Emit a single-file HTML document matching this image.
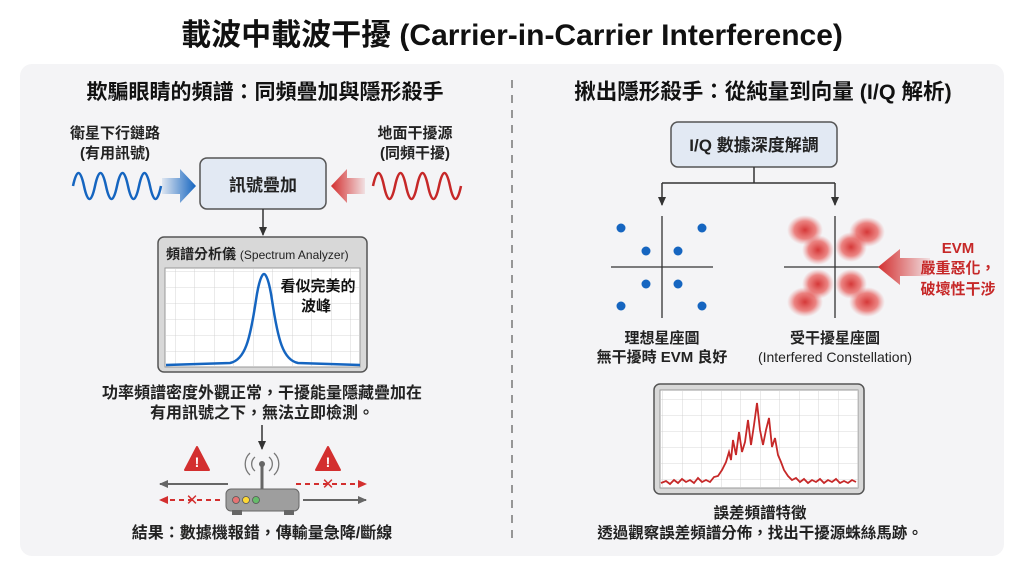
<!DOCTYPE html>
<html><head><meta charset="utf-8"><style>
body{margin:0;background:#fff;}
svg{display:block;font-family:"Liberation Sans","Noto Sans CJK TC",sans-serif;}
</style></head><body>
<svg width="1024" height="572" viewBox="0 0 1024 572" xmlns="http://www.w3.org/2000/svg">
<defs>
<linearGradient id="bg1" x1="0" x2="1"><stop offset="0" stop-color="#1565c0" stop-opacity="0.1"/><stop offset="1" stop-color="#1565c0"/></linearGradient>
<linearGradient id="rg1" x1="1" x2="0"><stop offset="0" stop-color="#d32f2f" stop-opacity="0.1"/><stop offset="1" stop-color="#d32f2f"/></linearGradient>
<radialGradient id="cl"><stop offset="0" stop-color="#d32f2f" stop-opacity="0.95"/><stop offset="0.6" stop-color="#e53935" stop-opacity="0.6"/><stop offset="1" stop-color="#e57373" stop-opacity="0"/></radialGradient>
<pattern id="grid" width="19.5" height="16" patternUnits="userSpaceOnUse"><path d="M19.5 0V16M0 16H19.5" stroke="#ccc" stroke-width="0.8" fill="none"/></pattern>
<marker id="ah" markerUnits="userSpaceOnUse" markerWidth="10" markerHeight="10" refX="8" refY="5" orient="auto"><path d="M0,1L9,5L0,9z" fill="#333"/></marker>
<marker id="ag" markerUnits="userSpaceOnUse" markerWidth="10" markerHeight="10" refX="8" refY="5" orient="auto"><path d="M0,1L9,5L0,9z" fill="#666"/></marker>
<marker id="ar" markerUnits="userSpaceOnUse" markerWidth="10" markerHeight="10" refX="8" refY="5" orient="auto"><path d="M0,1L9,5L0,9z" fill="#d32f2f"/></marker>
</defs>
<rect x="20" y="64" width="984" height="492" rx="12" fill="#f4f4f6"/>
<text x="512" y="45" text-anchor="middle" font-size="30" font-weight="bold" fill="#111">載波中載波干擾 (Carrier-in-Carrier Interference)</text>
<line x1="512" y1="80" x2="512" y2="545" stroke="#777" stroke-width="1.5" stroke-dasharray="8,7"/>
<text x="265" y="99" text-anchor="middle" font-size="21" font-weight="bold" fill="#111">欺騙眼睛的頻譜：同頻疊加與隱形殺手</text>
<text x="763" y="99" text-anchor="middle" font-size="21.5" font-weight="bold" fill="#111">揪出隱形殺手：從純量到向量 (I/Q 解析)</text>

<text x="115" y="138" text-anchor="middle" font-size="15" font-weight="bold" fill="#222">衛星下行鏈路</text>
<text x="115" y="158" text-anchor="middle" font-size="15" font-weight="bold" fill="#222">(有用訊號)</text>
<text x="415" y="138" text-anchor="middle" font-size="15" font-weight="bold" fill="#222">地面干擾源</text>
<text x="415" y="158" text-anchor="middle" font-size="15" font-weight="bold" fill="#222">(同頻干擾)</text>
<path d="M73 186 q5.5 -26 11 0 t11 0 t11 0 t11 0 t11 0 t11 0 t11 0 t11 0" fill="none" stroke="#1565c0" stroke-width="2.5"/>
<path d="M162 178h18v-9l16 17-16 17v-9h-18z" fill="url(#bg1)"/>
<path d="M365 178h-18v-9l-16 17 16 17v-9h18z" fill="url(#rg1)"/>
<path d="M373 186 q5.5 -26 11 0 t11 0 t11 0 t11 0 t11 0 t11 0 t11 0 t11 0" fill="none" stroke="#c62828" stroke-width="2.5"/>
<rect x="200" y="158" width="126" height="51" rx="7" fill="#e2e9f3" stroke="#555" stroke-width="1.5"/>
<text x="263" y="191" text-anchor="middle" font-size="17" font-weight="bold" fill="#222">訊號疊加</text>
<line x1="263" y1="209" x2="263" y2="235" stroke="#333" stroke-width="1.5" marker-end="url(#ah)"/>
<rect x="158" y="237" width="209" height="135" rx="6" fill="#d8d8d8" stroke="#555" stroke-width="1.5"/>
<text x="166" y="259" font-size="14" font-weight="bold" fill="#222">頻譜分析儀 <tspan font-size="12" font-weight="normal">(Spectrum Analyzer)</tspan></text>
<rect x="165" y="268" width="195" height="99" fill="#fff" stroke="#999"/>
<rect x="165" y="268" width="195" height="99" fill="url(#grid)"/>
<path d="M166 365 L230 363 C245 360 250 340 256 300 C259 280 262 274 264 274 C266 274 269 280 272 300 C278 340 283 360 298 363 L360 365" fill="none" stroke="#1565c0" stroke-width="2.5"/>
<text x="318" y="291" text-anchor="middle" font-size="15" font-weight="bold" fill="#111">看似完美的</text>
<text x="316" y="311" text-anchor="middle" font-size="15" font-weight="bold" fill="#111">波峰</text>
<text x="262" y="398" text-anchor="middle" font-size="16" font-weight="bold" fill="#222">功率頻譜密度外觀正常，干擾能量隱藏疊加在</text>
<text x="262" y="418" text-anchor="middle" font-size="16" font-weight="bold" fill="#222">有用訊號之下，無法立即檢測。</text>
<line x1="262" y1="425" x2="262" y2="449" stroke="#333" stroke-width="1.5" marker-end="url(#ah)"/>
<path d="M197 447 L209 470 L185 470 Z" fill="#d32f2f" stroke="#d32f2f" stroke-width="2" stroke-linejoin="round"/>
<text x="197" y="467" text-anchor="middle" font-size="14" font-weight="bold" fill="#fff">!</text>
<path d="M328 447 L340 470 L316 470 Z" fill="#d32f2f" stroke="#d32f2f" stroke-width="2" stroke-linejoin="round"/>
<text x="328" y="467" text-anchor="middle" font-size="14" font-weight="bold" fill="#fff">!</text>
<line x1="262" y1="465" x2="262" y2="491" stroke="#666" stroke-width="3"/>
<circle cx="262" cy="464" r="3" fill="#666"/>
<path d="M255 457a9 9 0 0 0 0 14M269 457a9 9 0 0 1 0 14M250 453a15 15 0 0 0 0 22M274 453a15 15 0 0 1 0 22" fill="none" stroke="#777" stroke-width="1.3"/>
<rect x="226" y="489" width="73" height="22" rx="5" fill="#9e9e9e" stroke="#666"/>
<rect x="232" y="510" width="10" height="5" fill="#666"/><rect x="284" y="510" width="10" height="5" fill="#666"/>
<circle cx="236" cy="500" r="3.5" fill="#e57373" stroke="#555" stroke-width="0.8"/>
<circle cx="246" cy="500" r="3.5" fill="#fdd835" stroke="#555" stroke-width="0.8"/>
<circle cx="256" cy="500" r="3.5" fill="#66bb6a" stroke="#555" stroke-width="0.8"/>
<line x1="228" y1="484" x2="160" y2="484" stroke="#666" stroke-width="2" marker-end="url(#ag)"/>
<line x1="220" y1="500" x2="160" y2="500" stroke="#d32f2f" stroke-width="2" stroke-dasharray="5,4" marker-end="url(#ar)"/>
<text x="192" y="505" text-anchor="middle" font-size="15" fill="#d32f2f">✕</text>
<line x1="296" y1="484" x2="366" y2="484" stroke="#d32f2f" stroke-width="2" stroke-dasharray="5,4" marker-end="url(#ar)"/>
<text x="328" y="489" text-anchor="middle" font-size="15" fill="#d32f2f">✕</text>
<line x1="303" y1="500" x2="366" y2="500" stroke="#666" stroke-width="2" marker-end="url(#ag)"/>
<text x="262" y="538" text-anchor="middle" font-size="16" font-weight="bold" fill="#222">結果：數據機報錯，傳輸量急降/斷線</text>

<rect x="671" y="122" width="166" height="45" rx="7" fill="#e2e9f3" stroke="#555" stroke-width="1.5"/>
<text x="754" y="151" text-anchor="middle" font-size="17" font-weight="bold" fill="#222">I/Q 數據深度解調</text>
<path d="M754 167V183M662 183H835" stroke="#333" stroke-width="1.5" fill="none"/>
<line x1="662" y1="183" x2="662" y2="205" stroke="#333" stroke-width="1.5" marker-end="url(#ah)"/>
<line x1="835" y1="183" x2="835" y2="205" stroke="#333" stroke-width="1.5" marker-end="url(#ah)"/>
<path d="M611 267H713M662 216V318" stroke="#333" stroke-width="1.3"/>
<g fill="#1565c0">
<circle cx="621" cy="228" r="4.5"/><circle cx="702" cy="228" r="4.5"/><circle cx="646" cy="251" r="4.5"/><circle cx="678" cy="251" r="4.5"/>
<circle cx="646" cy="284" r="4.5"/><circle cx="678" cy="284" r="4.5"/><circle cx="621" cy="306" r="4.5"/><circle cx="702" cy="306" r="4.5"/>
</g>
<path d="M784 267H880M835 216V318" stroke="#333" stroke-width="1.3"/>
<g fill="url(#cl)">
<ellipse cx="805" cy="230" rx="18" ry="15"/><ellipse cx="818" cy="250" rx="16" ry="15"/><ellipse cx="851" cy="247" rx="16" ry="15"/><ellipse cx="867" cy="232" rx="18" ry="15"/>
<ellipse cx="818" cy="284" rx="16" ry="15"/><ellipse cx="805" cy="302" rx="18" ry="15"/><ellipse cx="851" cy="284" rx="16" ry="15"/><ellipse cx="867" cy="302" rx="18" ry="15"/>
</g>
<path d="M930 258h-30v-9l-22 18 22 18v-9h30z" fill="url(#rg1)"/>
<text x="958" y="253" text-anchor="middle" font-size="15" font-weight="bold" fill="#c62828">EVM</text>
<text x="958" y="273" text-anchor="middle" font-size="15" font-weight="bold" fill="#c62828">嚴重惡化，</text>
<text x="958" y="294" text-anchor="middle" font-size="15" font-weight="bold" fill="#c62828">破壞性干涉</text>
<text x="662" y="343" text-anchor="middle" font-size="15" font-weight="bold" fill="#222">理想星座圖</text>
<text x="662" y="362" text-anchor="middle" font-size="15" font-weight="bold" fill="#222">無干擾時 EVM 良好</text>
<text x="835" y="343" text-anchor="middle" font-size="15" font-weight="bold" fill="#222">受干擾星座圖</text>
<text x="835" y="362" text-anchor="middle" font-size="14" fill="#222">(Interfered Constellation)</text>
<rect x="654" y="384" width="210" height="110" rx="6" fill="#d8d8d8" stroke="#555" stroke-width="1.5"/>
<rect x="660" y="390" width="198" height="98" fill="#fff" stroke="#999"/>
<rect x="660" y="390" width="198" height="98" fill="url(#grid)"/>
<polyline fill="none" stroke="#c62828" stroke-width="1.8" points="661,483 666,481 670,484 674,480 678,483 682,479 686,482 690,480 694,483 698,478 702,482 706,480 710,482 714,477 718,476 722,470 726,462 729,452 731,460 733,440 736,455 739,432 742,452 745,442 748,420 751,445 754,425 757,403 760,430 763,445 766,430 769,418 772,447 775,438 778,455 781,462 784,470 788,476 792,480 796,478 800,482 804,479 808,483 812,480 816,482 820,479 824,483 828,480 832,482 836,479 840,483 844,481 848,483 852,480 856,482"/>
<text x="760" y="518" text-anchor="middle" font-size="15.5" font-weight="bold" fill="#222">誤差頻譜特徵</text>
<text x="760" y="538" text-anchor="middle" font-size="15.5" font-weight="bold" fill="#222">透過觀察誤差頻譜分佈，找出干擾源蛛絲馬跡。</text>
</svg>
</body></html>
